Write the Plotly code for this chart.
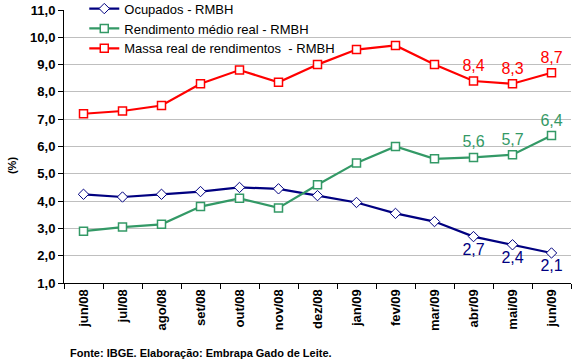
import plotly.graph_objects as go

categories = ["jun/08", "jul/08", "ago/08", "set/08", "out/08", "nov/08", "dez/08",
              "jan/09", "fev/09", "mar/09", "abr/09", "mai/09", "jun/09"]
ocupados = [4.25, 4.15, 4.25, 4.35, 4.5, 4.45, 4.2, 3.95, 3.55, 3.25, 2.7, 2.4, 2.1]
rendimento = [2.9, 3.05, 3.15, 3.8, 4.1, 3.75, 4.6, 5.4, 6.0, 5.55, 5.6, 5.7, 6.4]
massa = [7.2, 7.3, 7.5, 8.3, 8.8, 8.35, 9.0, 9.55, 9.7, 9.0, 8.4, 8.3, 8.7]
y_ticks = [1, 2, 3, 4, 5, 6, 7, 8, 9, 10, 11]
y_tick_labels = ["1,0", "2,0", "3,0", "4,0", "5,0", "6,0", "7,0", "8,0", "9,0", "10,0", "11,0"]

def labels(vals, start=10):
    return [f"{v:.1f}".replace(".", ",") if i >= start else "" for i, v in enumerate(vals)]

NAVY = "#000080"
GREEN = "#339966"
RED = "#FF0000"
FONT = "Liberation Sans"

fig = go.Figure()
fig.add_trace(go.Scatter(
    x=categories, y=ocupados, name="Ocupados - RMBH", mode="lines+markers+text",
    line=dict(color=NAVY, width=2.2),
    marker=dict(symbol="diamond", size=8, color="white", line=dict(color=NAVY, width=1)),
    text=labels(ocupados), textposition="bottom center", cliponaxis=False,
    textfont=dict(color=NAVY, size=16, family=FONT),
))
fig.add_trace(go.Scatter(
    x=categories, y=rendimento, name="Rendimento médio real - RMBH", mode="lines+markers+text",
    line=dict(color=GREEN, width=2.2),
    marker=dict(symbol="square", size=8, color="white", line=dict(color=GREEN, width=1.5)),
    text=labels(rendimento), textposition="top center", cliponaxis=False,
    textfont=dict(color=GREEN, size=16, family=FONT),
))
fig.add_trace(go.Scatter(
    x=categories, y=massa, name="Massa real de rendimentos  - RMBH", mode="lines+markers+text",
    line=dict(color=RED, width=2.2),
    marker=dict(symbol="square", size=8, color="white", line=dict(color=RED, width=1.5)),
    text=labels(massa), textposition="top center", cliponaxis=False,
    textfont=dict(color=RED, size=16, family=FONT),
))

fig.update_layout(
    width=574, height=362,
    margin=dict(l=64, r=3, t=10, b=79, autoexpand=False),
    paper_bgcolor="white", plot_bgcolor="white",
    font=dict(family=FONT, color="black"),
    separators=",.",
    showlegend=True,
    legend=dict(x=0.04, y=1.06, xanchor="left", yanchor="top",
                font=dict(size=13, color="black", family=FONT),
                bgcolor="rgba(0,0,0,0)", itemwidth=30, tracegroupgap=0),
    xaxis=dict(
        type="category", showgrid=False, showline=True, linecolor="black", linewidth=1,
        ticks="outside", tickson="boundaries", ticklen=5, tickcolor="black",
        tickangle=-90, tickfont=dict(size=13, family=FONT, color="black"),
        range=[-0.5, 12.5], automargin=False,
        tickvals=categories, ticktext=[f"<b>{c}</b>" for c in categories],
    ),
    yaxis=dict(
        range=[1, 11], tickvals=y_ticks, ticktext=[f"<b>{t}</b>" for t in y_tick_labels],
        showgrid=True, gridcolor="#BFBFBF", gridwidth=1,
        showline=True, linecolor="black", linewidth=1,
        ticks="outside", ticklen=5, tickcolor="black",
        tickfont=dict(size=13, family=FONT, color="black"),
        zeroline=False, automargin=False,
    ),
)

fig.add_annotation(
    text="<b>(%)</b>", textangle=-90,
    xref="paper", yref="paper", x=-0.1026, y=0.432, xanchor="center", yanchor="middle",
    showarrow=False, font=dict(size=11, color="black", family=FONT),
)
fig.add_annotation(
    text="<b>Fonte: IBGE. Elaboração: Embrapa Gado de Leite.</b>",
    xref="paper", yref="paper", x=0.008, y=0, xanchor="left", yanchor="top",
    showarrow=False, font=dict(size=11, color="black", family=FONT),
    yshift=-62,
)

fig.write_html("out.html", config={"displayModeBar": False},
               post_script="document.body.style.margin='0';")
